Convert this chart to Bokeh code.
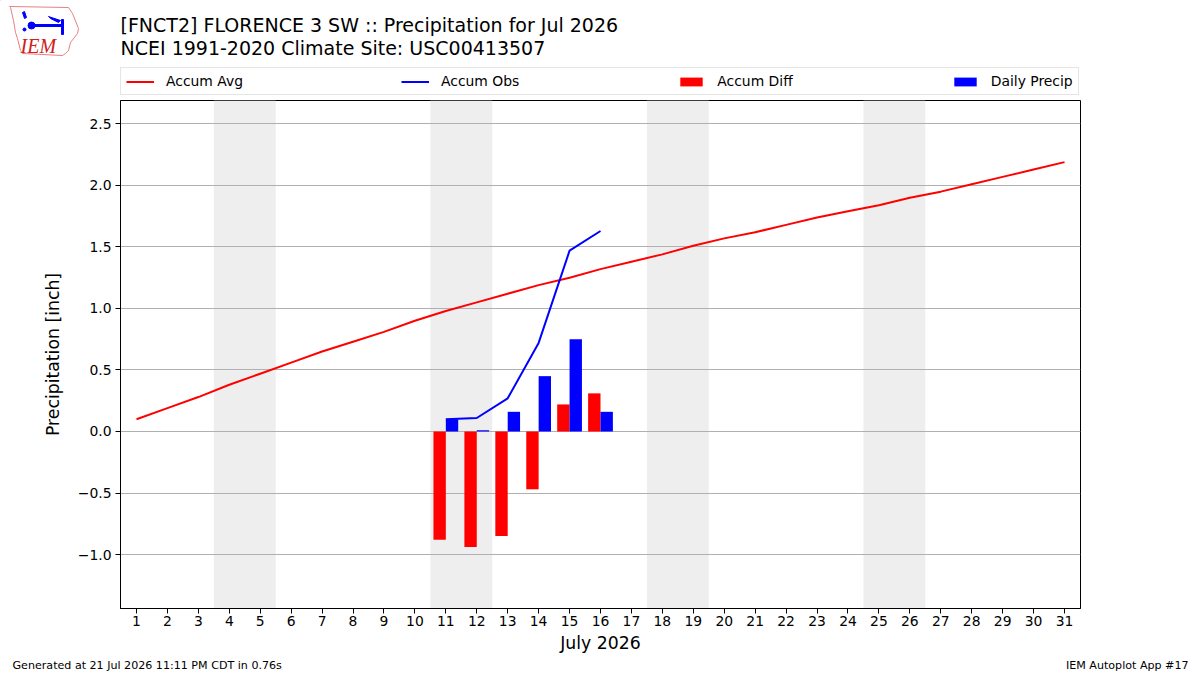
from bokeh.plotting import figure
from bokeh.layouts import column
from bokeh.models import (ColumnDataSource, Range1d, FixedTicker, BoxAnnotation,
                          Legend, LegendItem)
from bokeh.core.properties import value
from bokeh.transform import dodge
from bokeh.embed import file_html
from bokeh.resources import INLINE

# ---- data -------------------------------------------------------------
days = list(range(1, 32))
accum_avg = [0.10, 0.19, 0.28, 0.38, 0.47, 0.56, 0.65, 0.73, 0.81, 0.90,
             0.98, 1.05, 1.12, 1.19, 1.25, 1.32, 1.38, 1.44, 1.51, 1.57,
             1.62, 1.68, 1.74, 1.79, 1.84, 1.90, 1.95, 2.01, 2.07, 2.13, 2.19]

obs_days = [11, 12, 13, 14, 15, 16]
daily_precip = [0.10, 0.01, 0.16, 0.45, 0.75, 0.16]
accum_obs = [0.10, 0.11, 0.27, 0.72, 1.47, 1.63]
accum_diff = [-0.88, -0.94, -0.85, -0.47, 0.22, 0.31]

weekend_days = [4, 11, 18, 25]          # Saturdays; Sunday follows
y_ticks = [-1.0, -0.5, 0.0, 0.5, 1.0, 1.5, 2.0, 2.5]

series_labels = ["Accum Avg", "Accum Obs", "Accum Diff", "Daily Precip"]
title_lines = ["[FNCT2] FLORENCE 3 SW :: Precipitation for Jul 2026",
               "NCEI 1991-2020 Climate Site: USC00413507"]
footer_left = "Generated at 21 Jul 2026 11:11 PM CDT in 0.76s"
footer_right = "IEM Autoplot App #17"

FONT = "DejaVu Sans"
RED = "#ff0000"
BLUE = "#0000ff"
W = 1200


def blank(height):
    """A bare figure whose ranges run in pixels, used for header/footer."""
    f = figure(width=W, height=height, output_backend="svg", toolbar_location=None,
               x_range=Range1d(0, W), y_range=Range1d(height, 0),
               min_border=0, outline_line_color=None, frame_align=False)
    f.axis.visible = False
    f.grid.visible = False
    f.background_fill_color = "white"
    f.border_fill_color = "white"
    return f


# ---- header: logo, title and legend ------------------------------------
head = blank(99)
head.patch([9, 68, 72, 78, 77, 70, 68, 65, 62, 22, 20, 17, 15, 13, 10],
           [6, 7, 13, 28, 33, 42, 50, 53, 55, 53, 50, 38, 32, 20, 7],
           fill_color="white", line_color="#e88080", line_width=1)
for sx, sy in [([30, 62, 62, 30], [24, 24, 26, 26]),
               ([61, 63, 63, 61], [19, 19, 34, 34]),
               ([48, 60, 58, 50], [16, 20, 22, 18]),
               ([22, 24, 26, 24], [12, 11, 17, 18])]:
    head.patch(sx, sy, fill_color=BLUE, line_color=BLUE, line_width=1)
head.scatter([31], [25], size=7, fill_color=BLUE, line_color=BLUE)
head.scatter([24], [29], size=3, fill_color=BLUE, line_color=BLUE)
head.text([20], [45], text=["IEM"], text_font=value("Liberation Serif"),
          text_font_style="italic", text_font_size="20px", text_color="#d02020",
          text_baseline="middle")
head.text([120, 120], [24, 47], text=title_lines, text_font=value(FONT),
          text_font_size="19px", text_color="black", text_baseline="middle")

# legend swatches: off-canvas proxies styled like the chart's renderers
sw_avg = head.line([-20, -10], [-20, -20], line_color=RED, line_width=2)
sw_obs = head.line([-20, -10], [-20, -20], line_color=BLUE, line_width=2)
sw_diff = head.vbar(x=[-20], top=[-20], bottom=-30, width=5,
                    fill_color=RED, line_color=None)
sw_prec = head.vbar(x=[-20], top=[-20], bottom=-30, width=5,
                    fill_color=BLUE, line_color=None)
legend = Legend(items=[LegendItem(label=lab, renderers=[r]) for lab, r in
                       zip(series_labels, [sw_avg, sw_obs, sw_diff, sw_prec])],
                orientation="horizontal", location=(120, 4),
                spacing=158, padding=5, margin=0,
                glyph_width=28, glyph_height=11, label_height=15,
                label_standoff=12, label_text_font=FONT, label_text_font_size="13.9px",
                label_text_baseline="middle", label_text_color="black",
                border_line_color="#cccccc", border_line_width=1,
                background_fill_color="white", background_fill_alpha=1.0)
head.add_layout(legend)

# ---- main chart --------------------------------------------------------
avg_src = ColumnDataSource(dict(day=days, avg=accum_avg))
obs_src = ColumnDataSource(dict(day=obs_days, precip=daily_precip,
                                accum=accum_obs, diff=accum_diff))

p = figure(width=W, height=561, output_backend="svg", toolbar_location=None,
           x_range=Range1d(0.483, 31.517), y_range=Range1d(-1.439, 2.691),
           min_border_left=120, min_border_right=120,
           min_border_top=1, min_border_bottom=52, frame_align=False)
p.background_fill_color = "white"
p.border_fill_color = "white"
p.outline_line_color = "black"
p.outline_line_width = 1

# weekend shading
for d in weekend_days:
    p.add_layout(BoxAnnotation(left=d - 0.5, right=d + 1.5, fill_color="#eeeeee",
                               fill_alpha=1.0, line_alpha=0, level="image"))

# bars: departure left of the day, daily total right of it
p.vbar(x=dodge("day", -0.2, range=p.x_range), top="diff", width=0.4,
       source=obs_src, fill_color=RED, line_color=None)
p.vbar(x=dodge("day", 0.2, range=p.x_range), top="precip", width=0.4,
       source=obs_src, fill_color=BLUE, line_color=None)

# accumulation lines
p.line("day", "avg", source=avg_src, line_color=RED, line_width=2)
p.line("day", "accum", source=obs_src, line_color=BLUE, line_width=2)

# axes
p.xaxis.ticker = FixedTicker(ticks=days)
p.yaxis.ticker = FixedTicker(ticks=y_ticks)
p.yaxis.major_label_overrides = {t: f"{t:.1f}".replace("-", "\u2212") for t in y_ticks}
p.xaxis.axis_label = "July 2026"
p.yaxis.axis_label = "Precipitation [inch]"
for ax in (p.xaxis, p.yaxis):
    ax.axis_label_text_font = FONT
    ax.axis_label_text_font_size = "17.3px"
    ax.axis_label_text_font_style = "normal"
    ax.axis_label_text_color = "black"
    ax.major_label_text_font = FONT
    ax.major_label_text_font_size = "13.9px"
    ax.major_label_text_color = "black"
    ax.minor_tick_line_color = None
    ax.major_tick_out = 5
    ax.major_tick_in = 0
    ax.axis_line_color = "black"
    ax.major_tick_line_color = "black"
p.xaxis.major_label_standoff = 2
p.xaxis.axis_label_standoff = 4
p.yaxis.major_label_standoff = 4
p.yaxis.axis_label_standoff = 12

p.xgrid.grid_line_color = None
p.ygrid.grid_line_color = "#b0b0b0"
p.ygrid.grid_line_width = 1

# ---- footer ------------------------------------------------------------
foot = blank(15)
foot.text([12], [5], text=[footer_left], text_font=value(FONT),
          text_font_size="11.1px", text_color="black", text_baseline="middle")
foot.text([1188], [5], text=[footer_right], text_font=value(FONT),
          text_font_size="11.1px", text_color="black", text_baseline="middle",
          text_align="right")

page = column(head, p, foot, spacing=0)
open("out.html", "w").write(file_html(page, INLINE))
